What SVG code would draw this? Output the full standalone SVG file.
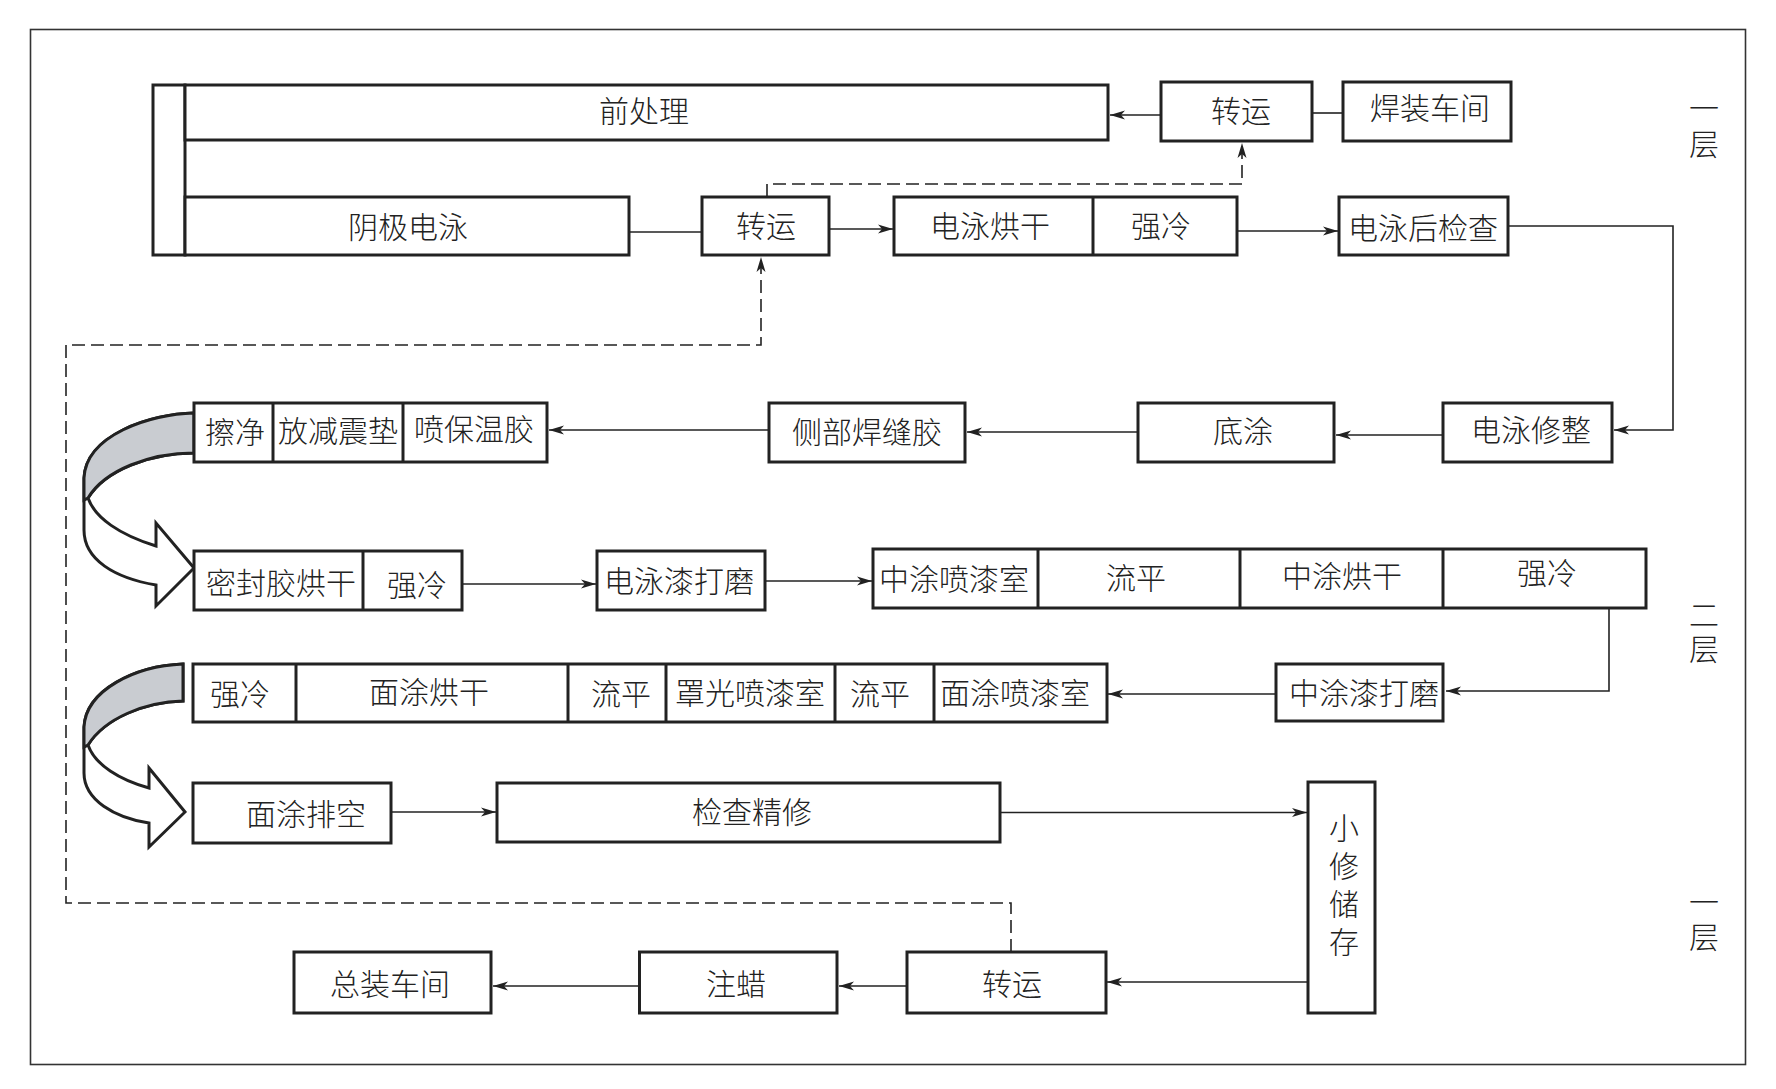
<svg xmlns="http://www.w3.org/2000/svg" width="1776" height="1089" viewBox="0 0 1776 1089">
<style>
.b{fill:#fff;stroke:#222;stroke-width:3}
.d{fill:none;stroke:#222;stroke-width:3}
.c{fill:none;stroke:#222;stroke-width:1.6}
.dash{fill:none;stroke:#222;stroke-width:1.6;stroke-dasharray:13 6}
.t{font-family:"Noto Sans CJK SC","Noto Sans",sans-serif;font-size:30px;font-weight:300;fill:#222;text-anchor:middle;dominant-baseline:central}
.v{writing-mode:vertical-rl;glyph-orientation-vertical:0}
.ribbon{fill:#fff;stroke:#222;stroke-width:3;stroke-linejoin:miter}
.gray{fill:#c9ccd1;stroke:#222;stroke-width:3}
</style>
<defs>
<marker id="ah" markerWidth="16" markerHeight="10" refX="15" refY="5" orient="auto" markerUnits="userSpaceOnUse"><path d="M0,0.5 L15,5 L0,9.5 L4,5 Z" fill="#222"/></marker>
</defs>
<rect x="30.5" y="29.5" width="1715" height="1035" fill="none" stroke="#333" stroke-width="1.6"/>

<g id="floor-labels">
<text class="t v" x="1704" y="129" letter-spacing="6">一层</text>
<text class="t v" x="1704" y="634" letter-spacing="4">二层</text>
<text class="t v" x="1704" y="922" letter-spacing="5">一层</text>
</g>

<g id="connectors">
<path class="c" d="M1161,115 H1110" marker-end="url(#ah)"/>
<path class="c" d="M1312,113 H1343"/>
<path class="c" d="M629,232 H702"/>
<path class="c" d="M829,229 H893" marker-end="url(#ah)"/>
<path class="c" d="M1237,231 H1338" marker-end="url(#ah)"/>
<path class="c" d="M1508,226 H1673 V430 H1614" marker-end="url(#ah)"/>
<path class="c" d="M1443,435 H1336" marker-end="url(#ah)"/>
<path class="c" d="M1138,432 H967" marker-end="url(#ah)"/>
<path class="c" d="M769,430 H549" marker-end="url(#ah)"/>
<path class="c" d="M462,584 H596" marker-end="url(#ah)"/>
<path class="c" d="M765,581 H872" marker-end="url(#ah)"/>
<path class="c" d="M1609,608 V691 H1446" marker-end="url(#ah)"/>
<path class="c" d="M1276,694 H1108" marker-end="url(#ah)"/>
<path class="c" d="M391,812 H496" marker-end="url(#ah)"/>
<path class="c" d="M1000,812.5 H1307" marker-end="url(#ah)"/>
<path class="c" d="M1308,982 H1107" marker-end="url(#ah)"/>
<path class="c" d="M907,986 H839" marker-end="url(#ah)"/>
<path class="c" d="M639,986 H493" marker-end="url(#ah)"/>
<path class="dash" d="M767,197 V184 H1242 V143" marker-end="url(#ah)"/>
<path class="dash" d="M1011,952 V903 H66 V345 H761 V257" marker-end="url(#ah)"/>
</g>

<g id="turn-arrow-1">
<path class="ribbon" d="M194,413 C150,414 86,435 84,478 L84,530 C84,560 115,578 156,585 L156,606 L194,568 L156,523 L156,546 C120,535 95,518 88,498 C105,470 150,453 194,453 Z"/>
<path class="gray" d="M194,413 C150,414 86,435 84,478 L84,500 L88,498 C105,470 150,453 194,453 Z"/>
</g>
<g id="turn-arrow-2">
<path class="ribbon" d="M183,664 C135,666 86,690 84,727 L84,773 C84,800 115,818 149,823 L149,847 L185,812 L149,768 L149,788 C120,780 95,765 88,745 C105,718 145,702 183,701 Z"/>
<path class="gray" d="M183,664 C135,666 86,690 84,727 L84,747 L88,745 C105,718 145,702 183,701 Z"/>
</g>

<g id="n-qianchuli">
<rect class="b" x="153" y="85" width="32" height="170"/>
<rect class="b" x="185" y="85" width="923" height="55"/>
<text class="t" x="644" y="109">前处理</text>
</g>
<g id="n-yinjidianyong">
<rect class="b" x="185" y="197" width="444" height="58"/>
<text class="t" x="408" y="225">阴极电泳</text>
</g>
<g id="n-zhuanyun1">
<rect class="b" x="1161" y="82" width="151" height="59"/>
<text class="t" x="1241" y="109">转运</text>
</g>
<g id="n-hanzhuang">
<rect class="b" x="1343" y="82" width="168" height="59"/>
<text class="t" x="1430" y="106">焊装车间</text>
</g>
<g id="n-zhuanyun2">
<rect class="b" x="702" y="197" width="127" height="58"/>
<text class="t" x="766" y="224">转运</text>
</g>
<g id="n-dianyonghonggan">
<rect class="b" x="894" y="197" width="343" height="58"/>
<line class="d" x1="1093" y1="197" x2="1093" y2="255"/>
<text class="t" x="990" y="224">电泳烘干</text>
<text class="t" x="1161" y="224">强冷</text>
</g>
<g id="n-dianyonghoujiancha">
<rect class="b" x="1339" y="197" width="169" height="58"/>
<text class="t" x="1423" y="226">电泳后检查</text>
</g>
<g id="n-dianyongxiuzheng">
<rect class="b" x="1443" y="403" width="169" height="59"/>
<text class="t" x="1531" y="428">电泳修整</text>
</g>
<g id="n-ditu">
<rect class="b" x="1138" y="403" width="196" height="59"/>
<text class="t" x="1243" y="429">底涂</text>
</g>
<g id="n-cebu">
<rect class="b" x="769" y="403" width="196" height="59"/>
<text class="t" x="867" y="430">侧部焊缝胶</text>
</g>
<g id="n-cajing">
<rect class="b" x="194" y="403" width="353" height="59"/>
<line class="d" x1="273" y1="403" x2="273" y2="462"/>
<line class="d" x1="403" y1="403" x2="403" y2="462"/>
<text class="t" x="235" y="430">擦净</text>
<text class="t" x="338" y="429">放减震垫</text>
<text class="t" x="474" y="427">喷保温胶</text>
</g>
<g id="n-mifengjiao">
<rect class="b" x="194" y="551" width="268" height="59"/>
<line class="d" x1="363" y1="551" x2="363" y2="610"/>
<text class="t" x="281" y="581">密封胶烘干</text>
<text class="t" x="417" y="583">强冷</text>
</g>
<g id="n-dianyongqidamo">
<rect class="b" x="597" y="551" width="168" height="59"/>
<text class="t" x="679" y="579">电泳漆打磨</text>
</g>
<g id="n-zhongtu">
<rect class="b" x="873" y="549" width="773" height="59"/>
<line class="d" x1="1038" y1="549" x2="1038" y2="608"/>
<line class="d" x1="1240" y1="549" x2="1240" y2="608"/>
<line class="d" x1="1443" y1="549" x2="1443" y2="608"/>
<text class="t" x="954" y="577">中涂喷漆室</text>
<text class="t" x="1136" y="576">流平</text>
<text class="t" x="1342" y="574">中涂烘干</text>
<text class="t" x="1547" y="571">强冷</text>
</g>
<g id="n-zhongtuqidamo">
<rect class="b" x="1276" y="664" width="167" height="57"/>
<text class="t" x="1364" y="691">中涂漆打磨</text>
</g>
<g id="n-miantu">
<rect class="b" x="193" y="664" width="914" height="58"/>
<line class="d" x1="296" y1="664" x2="296" y2="722"/>
<line class="d" x1="568" y1="664" x2="568" y2="722"/>
<line class="d" x1="666" y1="664" x2="666" y2="722"/>
<line class="d" x1="835" y1="664" x2="835" y2="722"/>
<line class="d" x1="934" y1="664" x2="934" y2="722"/>
<text class="t" x="240" y="692">强冷</text>
<text class="t" x="429" y="690">面涂烘干</text>
<text class="t" x="621" y="692">流平</text>
<text class="t" x="750" y="691">罩光喷漆室</text>
<text class="t" x="880" y="692">流平</text>
<text class="t" x="1015" y="691">面涂喷漆室</text>
</g>
<g id="n-miantupaikong">
<rect class="b" x="193" y="783" width="198" height="60"/>
<text class="t" x="306" y="812">面涂排空</text>
</g>
<g id="n-jianchajingxiu">
<rect class="b" x="497" y="783" width="503" height="59"/>
<text class="t" x="752" y="810">检查精修</text>
</g>
<g id="n-xiaoxiu">
<rect class="b" x="1308" y="782" width="67" height="231"/>
<text class="t v" x="1344" y="889" letter-spacing="8">小修储存</text>
</g>
<g id="n-zhuanyun3">
<rect class="b" x="907" y="952" width="199" height="61"/>
<text class="t" x="1012" y="982">转运</text>
</g>
<g id="n-zhula">
<rect class="b" x="639.5" y="952" width="197.5" height="61"/>
<text class="t" x="736" y="982">注蜡</text>
</g>
<g id="n-zongzhuang">
<rect class="b" x="294" y="952" width="197" height="61"/>
<text class="t" x="390" y="982">总装车间</text>
</g>
</svg>
